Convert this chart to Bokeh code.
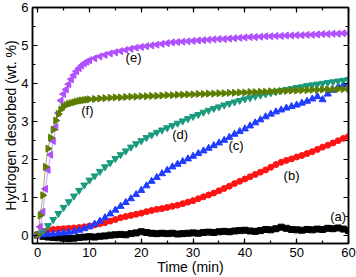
import math
from bokeh.plotting import figure
from bokeh.models import Range1d, LinearAxis, SingleIntervalTicker
from bokeh.core.properties import value
from bokeh.embed import file_html
from bokeh.resources import INLINE

# time axes (min)
T1 = [0, 1, 2, 3, 4, 5, 6, 7, 8, 9, 10, 11, 12, 13, 14, 15, 16, 17, 18, 19, 20,
      21, 22, 23, 24, 25, 26, 27, 28, 29, 30, 31, 32, 33, 34, 35, 36, 37, 38, 39, 40,
      41, 42, 43, 44, 45, 46, 47, 48, 49, 50, 51, 52, 53, 54, 55, 56, 57, 58, 59, 60]
T2 = [0, 0.5, 1, 1.5, 2, 2.5, 3, 3.5, 4, 4.5, 5, 5.5, 6, 6.5, 7, 7.5, 8, 8.5, 9, 9.5, 10,
      11, 12, 13, 14, 15, 16, 17, 18, 19, 20,
      21, 22, 23, 24, 25, 26, 27, 28, 29, 30, 31, 32, 33, 34, 35, 36, 37, 38, 39, 40,
      41, 42, 43, 44, 45, 46, 47, 48, 49, 50, 51, 52, 53, 54, 55, 56, 57, 58, 59, 60]

# hydrogen desorbed (wt.%)
a_vals = [0.00, -0.03, -0.05, -0.06, -0.07, -0.08, -0.09, -0.08, -0.06, -0.05, -0.04,
          -0.05, -0.03, -0.02, 0.00, 0.01, 0.02, 0.01, 0.04, 0.06, 0.09,
          0.07, 0.05, 0.04, 0.05, 0.04, 0.05, 0.03, 0.04, 0.05, 0.06,
          0.05, 0.07, 0.08, 0.07, 0.09, 0.10, 0.09, 0.11, 0.12, 0.13,
          0.11, 0.10, 0.12, 0.15, 0.14, 0.17, 0.21, 0.18, 0.15, 0.14,
          0.13, 0.15, 0.14, 0.16, 0.15, 0.18, 0.17, 0.19, 0.16, 0.12]
b_vals = [0.00, 0.10, 0.13, 0.15, 0.16, 0.17, 0.18, 0.19, 0.20, 0.22, 0.24,
          0.27, 0.30, 0.33, 0.37, 0.41, 0.46, 0.49, 0.52, 0.55, 0.58,
          0.62, 0.65, 0.68, 0.70, 0.73, 0.76, 0.79, 0.83, 0.87, 0.91,
          0.96, 1.01, 1.06, 1.11, 1.17, 1.23, 1.29, 1.36, 1.42, 1.48,
          1.54, 1.60, 1.66, 1.72, 1.79, 1.86, 1.92, 1.97, 2.01, 2.06,
          2.10, 2.15, 2.20, 2.26, 2.32, 2.37, 2.43, 2.49, 2.55, 2.60]
c_vals = [0.00, 0.01, 0.02, 0.03, 0.05, 0.06, 0.08, 0.10, 0.13, 0.17, 0.22,
          0.29, 0.37, 0.46, 0.56, 0.66, 0.76, 0.86, 0.96, 1.07, 1.18,
          1.30, 1.42, 1.52, 1.62, 1.71, 1.80, 1.87, 1.94, 2.01, 2.08,
          2.15, 2.22, 2.29, 2.36, 2.43, 2.50, 2.58, 2.66, 2.73, 2.80,
          2.88, 2.96, 3.04, 3.12, 3.19, 3.25, 3.30, 3.35, 3.39, 3.43,
          3.48, 3.53, 3.59, 3.65, 3.57, 3.72, 3.82, 3.91, 3.96, 3.99]
d_vals = [0.00, 0.10, 0.25, 0.41, 0.57, 0.73, 0.88, 1.03, 1.18, 1.32, 1.45,
          1.56, 1.68, 1.80, 1.91, 2.02, 2.12, 2.22, 2.32, 2.41, 2.49,
          2.57, 2.64, 2.71, 2.77, 2.83, 2.89, 2.95, 3.01, 3.07, 3.13,
          3.18, 3.24, 3.29, 3.34, 3.38, 3.43, 3.47, 3.51, 3.55, 3.59,
          3.62, 3.66, 3.69, 3.72, 3.75, 3.78, 3.81, 3.84, 3.86, 3.89,
          3.91, 3.94, 3.96, 3.98, 4.00, 4.02, 4.04, 4.06, 4.08, 4.10]
e_vals = [0.00, 0.22, 0.62, 1.22, 1.72, 2.12, 2.48, 2.85, 3.22, 3.55, 3.72,
          3.84, 3.98, 4.11, 4.22, 4.32, 4.40, 4.47, 4.53, 4.57, 4.61,
          4.66, 4.71, 4.75, 4.79, 4.82, 4.85, 4.88, 4.91, 4.94, 4.96,
          4.98, 5.00, 5.02, 5.04, 5.06, 5.08, 5.09, 5.10, 5.11, 5.12,
          5.13, 5.14, 5.15, 5.16, 5.17, 5.17, 5.18, 5.19, 5.20, 5.21,
          5.22, 5.22, 5.23, 5.24, 5.24, 5.25, 5.25, 5.26, 5.26, 5.27,
          5.27, 5.28, 5.28, 5.29, 5.30, 5.30, 5.31, 5.31, 5.32, 5.32]
f_vals = [0.00, 0.52, 1.05, 1.80, 2.28, 2.57, 2.78, 3.02, 3.19, 3.31, 3.39,
          3.43, 3.46, 3.48, 3.50, 3.52, 3.54, 3.55, 3.56, 3.57, 3.58,
          3.59, 3.60, 3.61, 3.62, 3.63, 3.63, 3.64, 3.65, 3.65, 3.66,
          3.66, 3.67, 3.67, 3.68, 3.69, 3.69, 3.70, 3.70, 3.71, 3.71,
          3.72, 3.72, 3.73, 3.73, 3.74, 3.74, 3.75, 3.75, 3.76, 3.76,
          3.77, 3.77, 3.78, 3.78, 3.79, 3.79, 3.80, 3.80, 3.81, 3.81,
          3.82, 3.82, 3.83, 3.83, 3.84, 3.84, 3.84, 3.85, 3.85, 3.86]

label_text = ["(a)", "(b)", "(c)", "(d)", "(e)", "(f)"]
label_x = [58.0, 49.0, 38.3, 27.5, 18.5, 9.6]
label_y = [0.50, 1.58, 2.37, 2.66, 4.68, 3.29]

FONT = "Liberation Sans"

p = figure(width=356, height=277, x_range=Range1d(-1, 60), y_range=Range1d(-0.22, 6),
           output_backend="svg", toolbar_location=None,
           min_border_left=0, min_border_right=8, min_border_top=7, min_border_bottom=0)
p.grid.visible = False
p.outline_line_color = "black"
p.outline_line_width = 1.5
p.background_fill_color = "white"
p.border_fill_color = "white"

p.xaxis.ticker = SingleIntervalTicker(interval=10, num_minor_ticks=2)
p.yaxis.ticker = SingleIntervalTicker(interval=1, num_minor_ticks=2)
p.xaxis.axis_label = "Time (min)"
p.yaxis.axis_label = "Hydrogen desorbed (wt. %)"


def style(ax, show_labels=True, label_standoff=4, title_standoff=-2):
    ax.axis_line_width = 1.5
    ax.axis_line_color = "black"
    ax.major_tick_in = 5
    ax.major_tick_out = 0
    ax.minor_tick_in = 3
    ax.minor_tick_out = 0
    ax.major_tick_line_width = 1.2
    ax.minor_tick_line_width = 1.2
    ax.major_tick_line_color = "black"
    ax.minor_tick_line_color = "black"
    if show_labels:
        ax.major_label_text_font = FONT
        ax.major_label_text_font_size = "13px"
        ax.major_label_text_color = "black"
        ax.major_label_standoff = label_standoff
        ax.axis_label_text_font = FONT
        ax.axis_label_text_font_size = "14px"
        ax.axis_label_text_font_style = "normal"
        ax.axis_label_text_color = "black"
        ax.axis_label_standoff = title_standoff
    else:
        ax.major_label_text_font_size = "1px"
        ax.major_label_text_color = None
        ax.major_label_standoff = 0


style(p.xaxis[0], True, 4, -1)
style(p.yaxis[0], True, 4, -1)

top = LinearAxis(ticker=SingleIntervalTicker(interval=10, num_minor_ticks=2))
right = LinearAxis(ticker=SingleIntervalTicker(interval=1, num_minor_ticks=2))
style(top, False)
style(right, False)
p.add_layout(top, "above")
p.add_layout(right, "right")

series = [
    (T1, a_vals, "#000000", "square", 0.0, 6),
    (T1, b_vals, "#ff1414", "circle", 0.0, 6),
    (T1, c_vals, "#1f3cff", "triangle", 0.0, 7),
    (T1, d_vals, "#1a9a7c", "inverted_triangle", 0.0, 7),
    (T2, e_vals, "#b050ff", "triangle", math.pi / 2, 7),
    (T2, f_vals, "#5c7d00", "triangle", -math.pi / 2, 7),
]
for xs, ys, col, mk, ang, sz in series:
    p.line(xs, ys, line_color=col, line_width=1, line_alpha=0.6)
    p.scatter(xs, ys, marker=mk, angle=ang, size=sz, fill_color=col, line_color=col)

p.text(x=label_x, y=label_y, text=label_text, text_font=value(FONT),
       text_font_size="13px", text_align="center", text_baseline="middle",
       text_color="black")

open("out.html", "w").write(file_html(p, INLINE))
